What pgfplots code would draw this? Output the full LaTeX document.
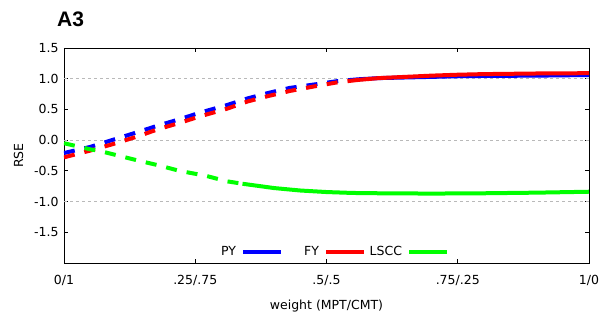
\documentclass[border=0pt]{standalone}
\usepackage{pgfplots}
\pgfplotsset{compat=1.18}
\usepackage{fontspec}
\setmainfont{DejaVu Sans}
\newfontfamily\titlefont{Liberation Sans}
\definecolor{pyblue}{RGB}{0,0,255}
\definecolor{fyred}{RGB}{255,0,0}
\definecolor{lsgreen}{RGB}{0,255,0}
\begin{document}
\begin{tikzpicture}
\begin{axis}[
  scale only axis,
  width=525pt, height=215pt,
  xmin=0, xmax=1, ymin=-2, ymax=1.5,
  xtick={0,0.25,0.5,0.75,1},
  xticklabels={0/1,.25/.75,.5/.5,.75/.25,1/0},
  ytick={-1.5,-1,-0.5,0,0.5,1,1.5},
  yticklabel style={/pgf/number format/fixed, /pgf/number format/fixed zerofill, /pgf/number format/precision=1, xshift=-2pt},
  /pgf/number format/assume math mode=true,
  extra y ticks={-1,0,1},
  extra y tick labels={},
  extra y tick style={grid=major, major tick length=0pt},
  grid style={gray!55, line width=0.6pt, dash pattern=on 3pt off 3pt},
  axis line style={black, line width=0.9pt},
  tick style={black, line width=0.8pt},
  major tick length=4pt,
  tick align=inside,
  ticklabel style={font=\fontsize{12.5}{14}\selectfont, text=black},
  xticklabel style={yshift=-9pt},
  xlabel={weight (MPT/CMT)},
  ylabel={RSE},
  label style={font=\fontsize{12.5}{14}\selectfont},
  xlabel style={yshift=-7pt},
  ylabel style={yshift=4pt},
  legend columns=3,
  legend plot pos=right,
  legend style={draw=none, fill=none, at={(0.5,0.051)}, anchor=center,
    font=\fontsize{12.5}{14}\selectfont,
    nodes={inner sep=0pt},
    /tikz/every odd column/.append style={column sep=5pt},
    /tikz/every even column/.append style={column sep=4pt}},
  legend image code/.code={\draw[#1, solid, line width=4pt] (0pt,0pt) -- (38pt,0pt);},
  clip=true,
]
% PY
\addplot[pyblue, line width=4pt, dash pattern=on 11pt off 10pt, forget plot] coordinates {
(0,-0.21) (0.05,-0.11) (0.095,0.01) (0.14,0.13) (0.18,0.24) (0.22,0.34) (0.26,0.45) (0.31,0.57) (0.35,0.68) (0.39,0.77) (0.43,0.85) (0.48,0.91) (0.52,0.96) (0.56,0.99)};
\addplot[pyblue, line width=4pt] coordinates {
(0.56,0.99) (0.6,1.01) (0.65,1.02) (0.7,1.03) (0.75,1.04) (0.8,1.045) (0.9,1.05) (1,1.06)};
\addlegendentry{\makebox[32pt][r]{PY}}
% FY
\addplot[fyred, line width=4pt, dash pattern=on 11pt off 10pt, forget plot] coordinates {
(0,-0.28) (0.05,-0.17) (0.095,-0.06) (0.14,0.06) (0.18,0.18) (0.22,0.28) (0.26,0.39) (0.31,0.51) (0.35,0.63) (0.39,0.72) (0.43,0.80) (0.48,0.88) (0.52,0.94) (0.56,0.98)};
\addplot[fyred, line width=4pt] coordinates {
(0.56,0.98) (0.6,1.01) (0.65,1.03) (0.7,1.05) (0.75,1.065) (0.8,1.075) (0.9,1.085) (1,1.09)};
\addlegendentry{\makebox[32pt][r]{FY}}
% LSCC
\addplot[lsgreen, line width=4pt, dash pattern=on 11pt off 10pt, forget plot] coordinates {
(0,-0.05) (0.05,-0.15) (0.07,-0.18) (0.14,-0.33) (0.18,-0.41) (0.22,-0.50) (0.27,-0.58) (0.31,-0.67) (0.34,-0.71)};
\addplot[lsgreen, line width=4pt] coordinates {
(0.34,-0.71) (0.4,-0.78) (0.45,-0.82) (0.5,-0.845) (0.55,-0.86) (0.6,-0.865) (0.7,-0.87) (0.8,-0.865) (0.9,-0.855) (1,-0.84)};
\addlegendentry{\makebox[32pt][r]{LSCC}}
\coordinate (sw) at (rel axis cs:0,0);
\coordinate (ne) at (rel axis cs:1,1);
\coordinate (nw) at (rel axis cs:0,1);
\end{axis}
\node[anchor=base west, font=\titlefont\bfseries\fontsize{21}{23}\selectfont, inner sep=0pt] at ([xshift=-7pt,yshift=21pt]nw) {A3};
\pgfresetboundingbox
\path[use as bounding box] ([xshift=-64pt,yshift=-54pt]sw) rectangle ([xshift=14pt,yshift=48pt]ne);
\end{tikzpicture}
\end{document}
